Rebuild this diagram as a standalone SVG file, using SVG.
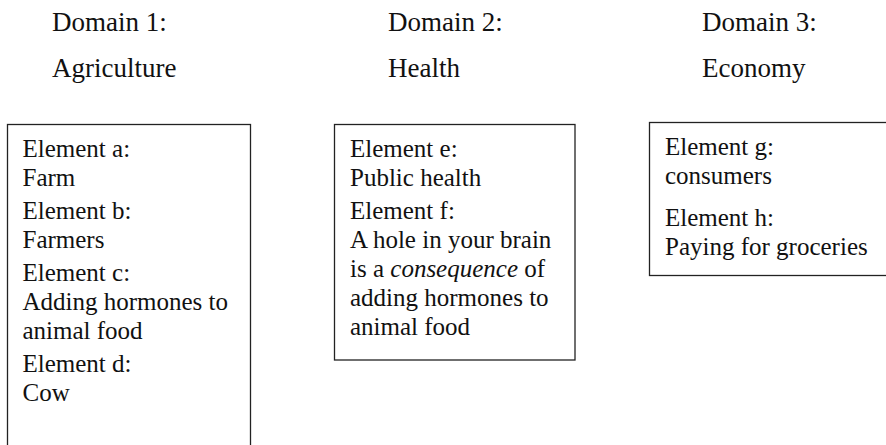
<svg xmlns="http://www.w3.org/2000/svg" width="886" height="445" viewBox="0 0 886 445">
<style>
text{font-family:"Liberation Serif","Times New Roman",serif;font-size:25px;fill:#111}
.head{font-size:27px}
.box{fill:#fff;stroke:#222;stroke-width:1.3}
</style>
<rect width="886" height="445" fill="#fff"/>
<g id="headings">
<text class="head" x="52" y="31">Domain 1:</text>
<text class="head" x="52" y="77">Agriculture</text>
<text class="head" x="388" y="31">Domain 2:</text>
<text class="head" x="388" y="77">Health</text>
<text class="head" x="702" y="31">Domain 3:</text>
<text class="head" x="702" y="77">Economy</text>
</g>
<g id="domain1">
<rect class="box" x="7.5" y="124.5" width="243" height="330"/>
<text x="22.5" y="157">Element a:</text>
<text x="22.5" y="186">Farm</text>
<text x="22.5" y="219">Element b:</text>
<text x="22.5" y="248">Farmers</text>
<text x="22.5" y="281">Element c:</text>
<text x="22.5" y="310">Adding hormones to</text>
<text x="22.5" y="339">animal food</text>
<text x="22.5" y="372">Element d:</text>
<text x="22.5" y="401">Cow</text>
</g>
<g id="domain2">
<rect class="box" x="334.5" y="124.5" width="240.5" height="235.5"/>
<text x="350" y="157">Element e:</text>
<text x="350" y="186">Public health</text>
<text x="350" y="219">Element f:</text>
<text x="350" y="248">A hole in your brain</text>
<text x="350" y="277">is a <tspan font-style="italic">consequence</tspan> of</text>
<text x="350" y="306">adding hormones to</text>
<text x="350" y="335">animal food</text>
</g>
<g id="domain3">
<rect class="box" x="649.5" y="122.5" width="250" height="153"/>
<text x="665" y="155">Element g:</text>
<text x="665" y="184">consumers</text>
<text x="665" y="226">Element h:</text>
<text x="665" y="255">Paying for groceries</text>
</g>
<g id="connectors"/>
</svg>
